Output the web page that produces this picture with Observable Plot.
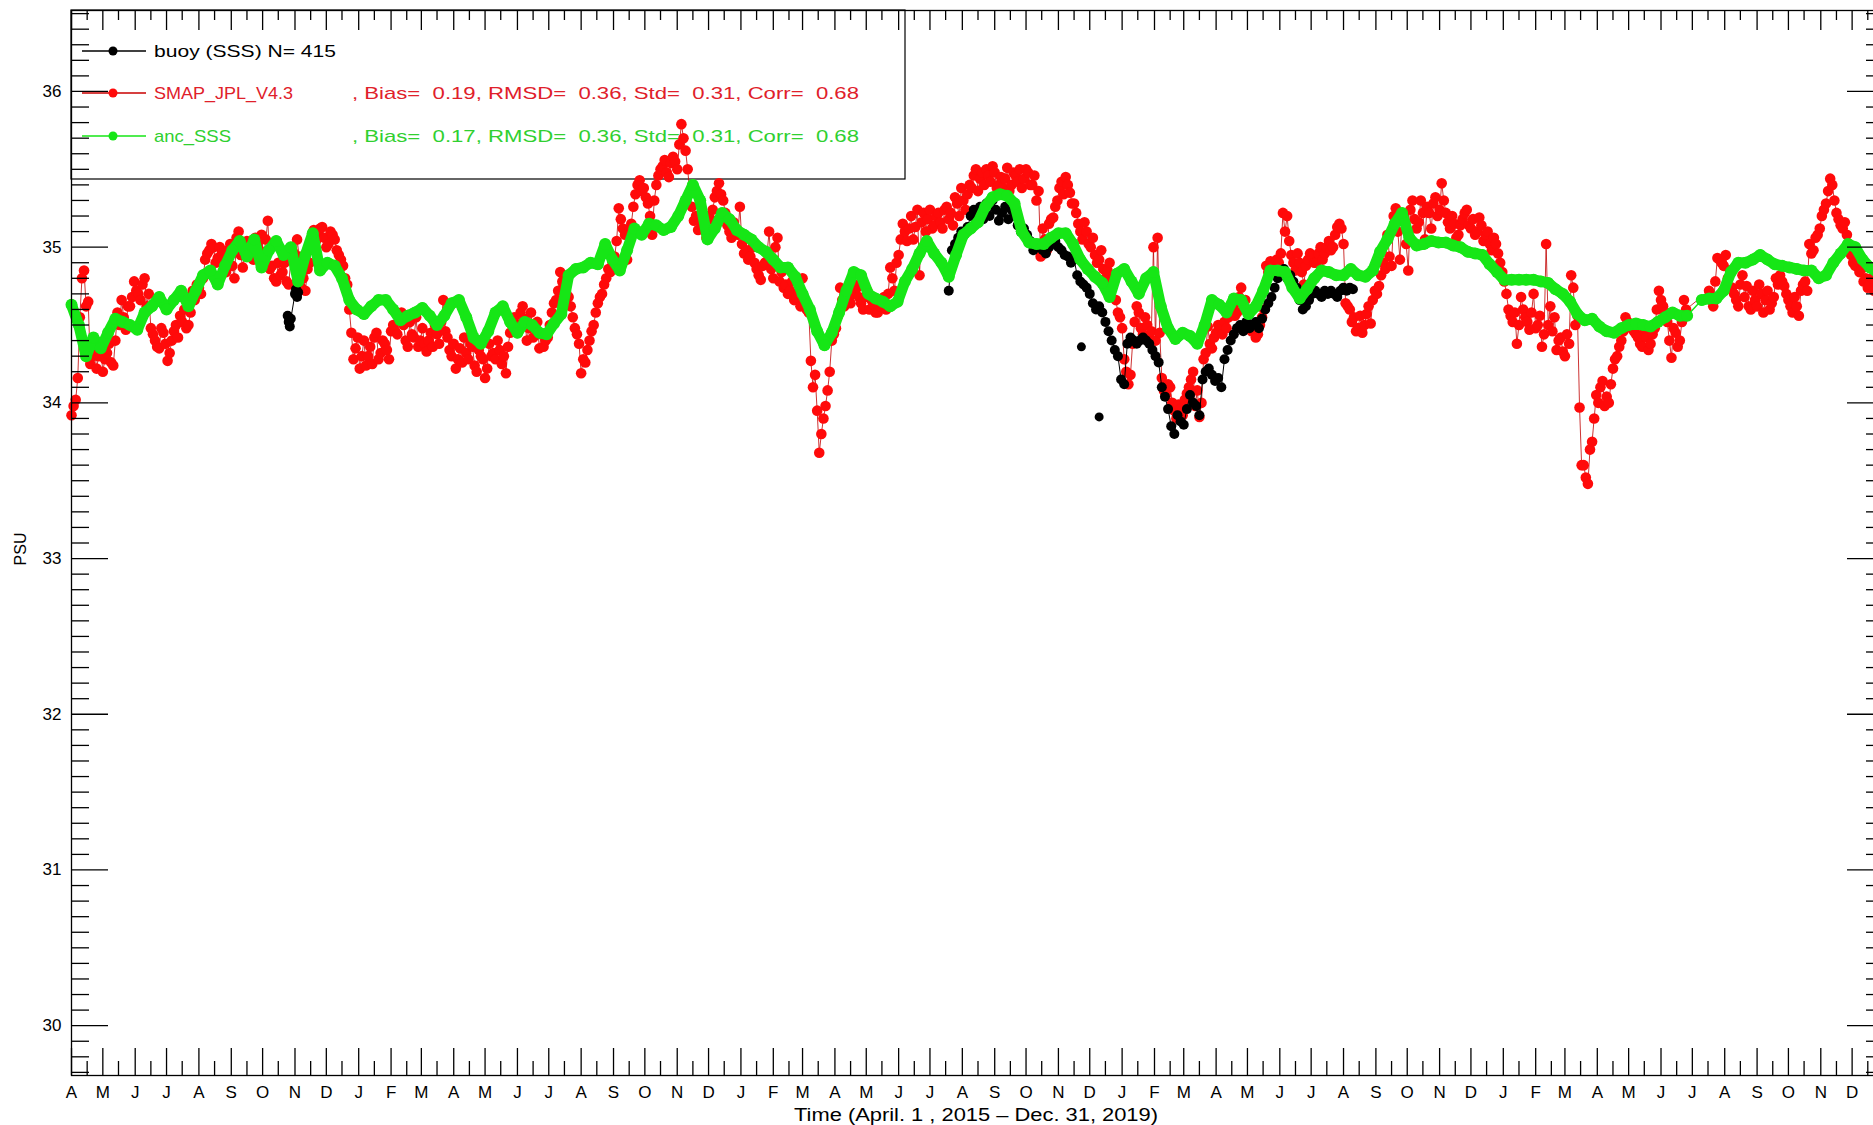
<!DOCTYPE html>
<html>
<head>
<meta charset="utf-8">
<script src="https://cdn.jsdelivr.net/npm/d3@7"></script>
<script src="https://cdn.jsdelivr.net/npm/@observablehq/plot@0.6"></script>
<style>
html, body { margin: 0; padding: 0; background: #fff; overflow: hidden; }
#chart { width: 1873px; height: 1125px; overflow: hidden; position: relative; }
#chart svg { max-width: none !important; width: 1900px !important; height: 1125px !important; display: block; }
</style>
</head>
<body>
<div id="chart"></div>
<script>
// ---------------- DATA ----------------
const startDate = "2015-04-01";
const endDate = "2020-01-01";

// SMAP_JPL_V4.3, values every 4 days from 2015-04-01 (null = missing)
const smapStepDays = 4;
const smapVals = [
  33.92, 34.02, 34.55, 34.85, 34.65, 34.30, 34.22, 34.35, 34.28, 34.38,
  34.24, 34.58, 34.66, 34.47, 34.62, 34.78, 34.70, 34.76, 34.62, 34.48,
  34.40, 34.35, 34.45, 34.27, 34.40, 34.50, 34.56, 34.60, 34.50, 34.72,
  34.76, 34.70, 34.92, 34.98, 35.00, 34.93, 34.96, 34.84, 35.02, 34.80,
  35.10, 34.87, 35.04, 34.95, 35.06, 34.98, 34.93, 35.17, 34.88, 34.78,
  34.82, 34.90, 34.76, 34.97, 35.05, 34.74, 34.72, 34.90, 35.11, 35.08,
  35.13, 35.00, 35.10, 35.05, 34.95, 34.88, 34.76, 34.45, 34.35, 34.22,
  34.40, 34.30, 34.25, 34.45, 34.32, 34.38, 34.28, 34.50, 34.44, 34.58,
  34.40, 34.52, 34.42, 34.36, 34.48, 34.33, 34.45, 34.50, 34.38, 34.66,
  34.42, 34.30, 34.22, 34.35, 34.42, 34.28, 34.36, 34.20, 34.30, 34.16,
  34.38, 34.32, 34.40, 34.25, 34.19, 34.45, 34.55, 34.50, 34.62, 34.40,
  34.58, 34.48, 34.35, 34.36, 34.42, 34.58, 34.66, 34.84, 34.75, 34.68,
  34.55, 34.44, 34.19, 34.26, 34.40, 34.50, 34.64, 34.70, 34.80, 34.84,
  34.94, 35.25, 35.12, 34.92, 35.15, 35.34, 35.43, 35.38, 35.28, 35.08,
  35.40, 35.50, 35.56, 35.45, 35.58, 35.50, 35.79, 35.62, 35.35, 35.17,
  35.11, 35.22, 35.06, 35.18, 35.32, 35.41, 35.30, 35.14, 35.06, 35.12,
  35.26, 34.96, 34.92, 35.00, 34.86, 34.79, 34.90, 35.10, 34.80, 35.06,
  34.84, 34.76, 34.72, 34.66, 34.70, 34.80, 34.60, 34.27, 34.18, 33.68,
  33.90, 34.08, 34.40, 34.48, 34.74, 34.62, 34.66, 34.70, 34.74, 34.64,
  34.68, 34.60, 34.63, 34.58, 34.66, 34.60, 34.87, 34.72, 34.95, 35.15,
  35.04, 35.20, 35.13, 34.82, 35.22, 35.18, 35.12, 35.20, 35.16, 35.24,
  35.18, 35.14, 35.28, 35.38, 35.24, 35.40, 35.46, 35.36, 35.48, 35.50,
  35.42, 35.48, 35.40, 35.38, 35.51, 35.40, 35.46, 35.50, 35.44, 35.48,
  35.40, 35.30, 34.94, 35.05, 35.15, 35.19, 35.30, 35.42, 35.45, 35.35,
  35.28, 35.15, 35.05, 35.10, 35.00, 34.95, 34.92, 34.86, 34.85, 34.78,
  34.66, 34.55, 34.28, 34.12, 34.38, 34.62, 34.48, 34.55, 34.42, 35.00,
  35.06, 34.16, 34.05, 34.10, 33.95, 33.99, 33.92, 34.06, 34.15, 33.98,
  33.91, 34.28, 34.49, 34.35, 34.45, 34.50, 34.52, 34.55, 34.62, 34.58,
  34.74, 34.66, 34.50, 34.47, 34.44, 34.55, 34.88, 34.91, 34.86, 34.90,
  35.22, 35.20, 34.95, 34.85, 34.90, 34.76, 34.92, 34.94, 34.90, 35.00,
  34.96, 35.04, 35.00, 35.13, 35.12, 34.64, 34.60, 34.55, 34.48, 34.45,
  34.57, 34.51, 34.72, 34.75, 34.90, 35.08, 34.88, 35.25, 34.92, 35.20,
  34.85, 35.30, 35.12, 35.30, 35.05, 35.22, 35.28, 35.20, 35.41, 35.22,
  35.12, 35.15, 35.08, 35.18, 35.24, 35.12, 35.08, 35.19, 35.04, 35.10,
  34.98, 35.02, 34.90, 34.78, 34.60, 34.52, 34.38, 34.68, 34.55, 34.47,
  34.70, 34.50, 34.36, 35.02, 34.62, 34.55, 34.40, 34.33, 34.44, 34.82,
  34.50, 33.97, 33.60, 33.48, 33.75, 34.05, 34.10, 33.98, 34.00, 34.22,
  34.30, 34.40, 34.55, 34.50, 34.46, 34.42, 34.36, 34.42, 34.38, 34.48,
  34.72, 34.62, 34.52, 34.29, 34.45, 34.40, 34.66, null, null, null,
  null, null, 34.72, 34.62, 34.93, 34.90, 34.95, 34.85, 34.70, 34.62,
  34.82, 34.75, 34.60, 34.66, 34.76, 34.58, 34.72, 34.64, 34.80, 34.82,
  34.75, 34.66, 34.58, 34.62, 34.72, 34.78, 35.02, 34.98, 35.08, 35.20,
  35.28, 35.44, 35.30, 35.18, 35.12, 35.08, 34.95, 34.88, 34.84, 34.78,
  34.74, 34.80, 34.85, 34.82
];
// SMAP_JPL_V4.3, the in-between samples (2 days after each of the above)
const smapMidVals = [
  33.98, 34.16, 34.80, 34.62, 34.25, 34.36, 34.30, 34.20, 34.32, 34.26,
  34.40, 34.50, 34.55, 34.62, 34.68, 34.72, 34.66, 34.80, 34.70, 34.44,
  34.36, 34.48, 34.38, 34.32, 34.46, 34.42, 34.52, 34.48, 34.58, 34.66,
  34.74, 34.80, 34.96, 35.02, 34.90, 35.00, 34.92, 34.98, 34.88, 35.06,
  34.95, 35.00, 35.00, 34.92, 35.02, 35.08, 35.05, 34.86, 34.80, 34.90,
  34.84, 34.78, 34.92, 34.76, 34.94, 34.80, 34.86, 35.00, 35.04, 35.12,
  35.06, 35.02, 35.08, 34.98, 34.92, 34.80, 34.60, 34.28, 34.42, 34.30,
  34.24, 34.36, 34.42, 34.28, 34.40, 34.34, 34.46, 34.46, 34.54, 34.50,
  34.36, 34.44, 34.55, 34.40, 34.38, 34.40, 34.36, 34.44, 34.52, 34.46,
  34.34, 34.38, 34.28, 34.26, 34.32, 34.38, 34.24, 34.34, 34.28, 34.22,
  34.30, 34.28, 34.34, 34.30, 34.36, 34.50, 34.46, 34.58, 34.54, 34.48,
  34.42, 34.52, 34.44, 34.40, 34.50, 34.64, 34.72, 34.78, 34.70, 34.62,
  34.48, 34.38, 34.28, 34.34, 34.46, 34.58, 34.68, 34.76, 34.86, 34.90,
  35.04, 35.18, 35.08, 35.10, 35.26, 35.40, 35.36, 35.32, 35.20, 35.30,
  35.46, 35.52, 35.48, 35.54, 35.55, 35.66, 35.70, 35.50, 35.26, 35.20,
  35.16, 35.14, 35.20, 35.24, 35.36, 35.34, 35.22, 35.10, 35.16, 35.08,
  35.02, 34.98, 34.94, 34.90, 34.82, 34.88, 34.96, 34.86, 35.00, 34.78,
  34.74, 34.70, 34.78, 34.68, 34.62, 34.66, 34.58, 34.10, 33.95, 33.80,
  33.98, 34.20, 34.44, 34.56, 34.66, 34.70, 34.64, 34.76, 34.68, 34.60,
  34.72, 34.66, 34.58, 34.62, 34.68, 34.70, 34.80, 34.90, 35.05, 35.10,
  35.12, 35.05, 35.24, 35.16, 35.10, 35.24, 35.14, 35.22, 35.12, 35.26,
  35.22, 35.32, 35.20, 35.30, 35.34, 35.38, 35.50, 35.44, 35.40, 35.46,
  35.52, 35.38, 35.45, 35.44, 35.36, 35.48, 35.42, 35.38, 35.50, 35.40,
  35.46, 35.36, 35.12, 34.98, 35.18, 35.26, 35.38, 35.34, 35.40, 35.28,
  35.22, 35.10, 35.16, 35.02, 35.06, 34.90, 34.98, 34.80, 34.90, 34.82,
  34.58, 34.48, 34.20, 34.18, 34.52, 34.58, 34.44, 34.50, 34.46, 34.40,
  34.45, 34.08, 34.12, 34.00, 33.90, 33.96, 34.02, 34.10, 34.20, 34.08,
  34.00, 34.32, 34.38, 34.42, 34.50, 34.44, 34.48, 34.60, 34.56, 34.68,
  34.62, 34.58, 34.46, 34.42, 34.50, 34.60, 34.84, 34.88, 34.92, 34.96,
  35.10, 35.04, 34.90, 34.96, 34.84, 34.88, 34.96, 34.90, 34.96, 34.92,
  35.00, 34.98, 35.08, 35.15, 35.02, 34.62, 34.52, 34.46, 34.56, 34.50,
  34.62, 34.66, 34.70, 34.82, 34.86, 34.94, 35.20, 35.10, 35.18, 35.02,
  35.24, 35.18, 35.16, 35.22, 35.26, 35.12, 35.32, 35.24, 35.30, 35.16,
  35.20, 35.06, 35.14, 35.22, 35.14, 35.18, 35.10, 35.14, 35.08, 35.02,
  35.06, 34.96, 34.84, 34.70, 34.56, 34.58, 34.50, 34.60, 34.52, 34.58,
  34.48, 34.56, 34.44, 34.50, 34.46, 34.34, 34.42, 34.30, 34.38, 34.74,
  34.56, 33.60, 33.52, 33.70, 33.90, 34.00, 34.14, 34.04, 34.12, 34.28,
  34.36, 34.46, 34.52, 34.48, 34.44, 34.38, 34.46, 34.34, 34.44, 34.60,
  34.66, 34.58, 34.40, 34.48, 34.36, 34.52, 34.60, null, null, null,
  null, null, 34.66, 34.78, 34.92, 34.88, 34.80, 34.74, 34.66, 34.76,
  34.68, 34.62, 34.72, 34.62, 34.70, 34.66, 34.60, 34.68, 34.76, 34.78,
  34.70, 34.62, 34.68, 34.56, 34.76, 34.72, 34.96, 35.06, 35.12, 35.24,
  35.36, 35.40, 35.22, 35.14, 35.16, 35.02, 34.90, 34.92, 34.86, 34.80,
  34.76, 34.72, 34.78, null
];

// anc_SSS, one value every 7 days from 2015-04-01 (null = missing)
const ancStepDays = 7;
const ancVals = [
  34.63, 34.50, 34.30, 34.42, 34.35, 34.45, 34.54, 34.52, 34.50, 34.47,
  34.58, 34.62, 34.68, 34.60, 34.66, 34.72, 34.62, 34.72, 34.82, 34.85,
  34.76, 34.88, 34.98, 35.04, 34.94, 35.05, 34.87, 34.98, 35.04, 34.95,
  35.00, 34.78, 34.95, 35.09, 34.85, 34.90, 34.88, 34.80, 34.66, 34.60,
  34.57, 34.62, 34.66, 34.66, 34.60, 34.53, 34.56, 34.58, 34.61, 34.56,
  34.50, 34.56, 34.64, 34.66, 34.55, 34.42, 34.38, 34.46, 34.58, 34.62, 34.52,
  34.45, 34.52, 34.50, 34.45, 34.44, 34.51, 34.57, 34.82, 34.86, 34.87,
  34.90, 34.89, 35.02, 34.92, 34.85, 34.98, 35.12, 35.08, 35.15, 35.14,
  35.11, 35.13, 35.20, 35.30, 35.40, 35.30, 35.05, 35.12, 35.22, 35.18,
  35.11, 35.08, 35.05, 35.00, 34.97, 34.92, 34.87, 34.87, 34.81, 34.70,
  34.60, 34.46, 34.37, 34.45, 34.58, 34.72, 34.84, 34.82, 34.70, 34.67,
  34.65, 34.62, 34.65, 34.78, 34.86, 34.96, 35.04, 34.96, 34.90, 34.81,
  34.95, 35.08, 35.12, 35.16, 35.26, 35.32, 35.34,
  35.33, 35.28, 35.10, 35.03, 35.02, 35.02, 35.06, 35.09, 35.09, 35.02,
  34.92, 34.86, 34.81, 34.77, 34.68, 34.83, 34.86, 34.78, 34.70, 34.80,
  34.84, 34.62, 34.48, 34.41, 34.45, 34.43, 34.38, 34.50, 34.66, 34.63,
  34.58, 34.67, 34.66, 34.57, 34.62, 34.72, 34.85, 34.85, 34.84, 34.74,
  34.67, 34.73, 34.80, 34.85, 34.84, 34.82, 34.82, 34.86, 34.82, 34.81,
  34.85, 34.97, 35.05, 35.15, 35.22, 35.06, 35.01, 35.02, 35.04, 35.03,
  35.03, 35.01, 35.00,
  34.97, 34.96, 34.95, 34.89, 34.84, 34.79, 34.79, 34.79, 34.79, 34.79,
  34.78, 34.77, 34.73, 34.70, 34.65, 34.57, 34.53, 34.54, 34.49, 34.46,
  34.45, 34.48, 34.50, 34.51, 34.50, 34.49, 34.52, 34.55, 34.58, 34.56, 34.56,
  null,
  34.66, 34.67, 34.67, 34.72, 34.84, 34.90, 34.90, 34.92, 34.95, 34.92,
  34.89, 34.88, 34.87, 34.86, 34.85, 34.85, 34.80, 34.82, 34.90, 34.96,
  35.02, 35.00, 34.92, 34.87, 34.84
];

// buoy (SSS): short record in late Oct / early Nov 2015 (days after 2015-04-01)
const buoyEarlyDays = [207, 208, 209, 210, 214, 215, 216, 217];
const buoyEarlyVals = [34.56, 34.52, 34.49, 34.54, 34.70, 34.73, 34.68, 34.71];
// buoy main record, every 3 days starting day 840 (mid-July 2017)
const buoyMainStartDay = 840;
const buoyStepDays = 3;
const buoyMainVals = [
  34.72, 34.98, 35.02, 35.06, 35.10, 35.08, 35.13, 35.20, 35.24, 35.22,
  35.26, 35.18, 35.28, 35.20, 35.30, 35.24, 35.17, 35.22, 35.26, 35.18,
  35.24, 35.20, 35.14, 35.10, 35.12, 35.08, 35.04, 34.98, 35.02, 35.00,
  34.98, 34.96, 35.00, 35.02, 35.04, 35.00, 34.98, 34.95, 34.94, 34.90,
  34.92, 34.82, 34.78, 34.76, 34.74, 34.70, 34.64, 34.60, 34.62, 34.58,
  34.52, 34.46, 34.40, 34.34, 34.30, 34.15, 34.12, 34.38, 34.42, 34.40,
  34.38, 34.40, 34.42, 34.40, 34.38, 34.34, 34.30, 34.26, 34.10, 34.04,
  33.96, 33.85, 33.80, 33.92, 33.88, 33.86, 33.96, 34.05, 34.00, 33.98,
  33.92, 34.15, 34.20, 34.22, 34.18, 34.14, 34.16, 34.10, 34.28, 34.34,
  34.40, 34.44, 34.48, 34.50, 34.46, 34.52, 34.48, 34.50, 34.52, 34.48,
  34.54, 34.60, 34.64, 34.68, 34.74, 34.80, 34.85, 34.86, 34.80, 34.82,
  34.78, 34.74, 34.66, 34.60, 34.62, 34.66, 34.70, 34.72, 34.70, 34.68,
  34.72, 34.70, 34.72, 34.70, 34.68, 34.72, 34.74, 34.72, 34.74, 34.73
];
// isolated buoy samples
const buoyLoneDays = [967, 984];
const buoyLoneVals = [34.36, 33.91];

// axes / labels
const yMajorTicks = [30, 31, 32, 33, 34, 35, 36];
const yDomain = [29.68, 36.52];
const monthLetters = ["J", "F", "M", "A", "M", "J", "J", "A", "S", "O", "N", "D"];
const xTitle = "Time (April. 1 , 2015 \u2013 Dec. 31, 2019)";
const yTitle = "PSU";
const legendNames = ["buoy (SSS) N= 415", "SMAP_JPL_V4.3", "anc_SSS"];
const legendStats = ["", ", Bias=  0.19, RMSD=  0.36, Std=  0.31, Corr=  0.68", ", Bias=  0.17, RMSD=  0.36, Std=  0.31, Corr=  0.68"];

// ---------------- BUILD ----------------
const DAY = 86400000;
const t0 = new Date(startDate + "T00:00:00Z");
const t1 = new Date(endDate + "T00:00:00Z");
const dayToDate = d => new Date(+t0 + d * DAY);

const smap = [
  ...smapVals.map((v, i) => ({date: dayToDate(i * smapStepDays), v})),
  ...smapMidVals.map((v, i) => ({date: dayToDate(i * smapStepDays + smapStepDays / 2), v}))
].sort((a, b) => a.date - b.date);
const smapOk = smap.filter(d => d.v != null);
const anc = ancVals.map((v, i) => ({date: dayToDate(i * ancStepDays), v}));
const ancOk = anc.filter(d => d.v != null);
const buoy = [
  ...buoyEarlyDays.map((d, i) => ({date: dayToDate(d), v: buoyEarlyVals[i], seg: "a"})),
  ...buoyMainVals.map((v, i) => ({date: dayToDate(buoyMainStartDay + i * buoyStepDays), v, seg: "b"}))
];
const buoyLone = buoyLoneDays.map((d, i) => ({date: dayToDate(d), v: buoyLoneVals[i]}));

const W = 1900, H = 1125, mL = 71, mR = 16, mT = 10, mB = 50;
const pxPerDay = (W - mL - mR) / ((t1 - t0) / DAY);
const pxPerUnit = (H - mT - mB) / (yDomain[1] - yDomain[0]);

const yTicks = d3.range(297, 366).map(i => ({v: i / 10, major: i % 10 === 0}));
const months = d3.utcMonth.range(t0, t1);
const xTicks = [
  ...months.map(m => ({date: m, major: true})),
  ...months.map(m => ({date: d3.utcDay.offset(m, 15), major: false}))
];
const yTickLen = t => (t.major ? 37 : 18) / pxPerDay * DAY;
const xTickLenBottom = t => (t.major ? 27 : 14) / pxPerUnit;
const xTickLenTop = t => (t.major ? 20 : 10) / pxPerUnit;

const RED = "#ff0a0a", GREEN = "#16e616";

const chart = Plot.plot({
  width: W, height: H,
  marginLeft: mL, marginRight: mR, marginTop: mT, marginBottom: mB,
  style: {fontFamily: "'Liberation Sans', 'DejaVu Sans', sans-serif", fontSize: "17px", color: "black", background: "white", overflow: "visible", maxWidth: "none"},
  x: {type: "utc", domain: [t0, t1]},
  y: {domain: yDomain},
  marks: [
    // SMAP
    Plot.line(smapOk, {x: "date", y: "v", stroke: "#c00000", strokeWidth: 0.8}),
    Plot.dot(smapOk, {x: "date", y: "v", r: 5.3, fill: RED, stroke: null}),
    // buoy
    Plot.line(buoy, {x: "date", y: "v", z: "seg", stroke: "black", strokeWidth: 1}),
    Plot.dot(buoy, {x: "date", y: "v", r: 5, fill: "black", stroke: null}),
    Plot.dot(buoyLone, {x: "date", y: "v", r: 4.5, fill: "black", stroke: null}),
    // anc_SSS
    Plot.line(ancOk, {x: "date", y: "v", stroke: GREEN, strokeWidth: 1.5}),
    Plot.line(anc, {x: "date", y: "v", stroke: GREEN, strokeWidth: 11, strokeLinejoin: "round", strokeLinecap: "round"}),
    Plot.dot(ancOk, {x: "date", y: "v", r: 6, fill: GREEN, stroke: null}),
    // frame and ticks
    Plot.frame({stroke: "black", strokeWidth: 1.3}),
    Plot.ruleY(yTicks, {y: "v", x1: () => t0, x2: t => new Date(+t0 + yTickLen(t)), stroke: "black", strokeWidth: 1.3}),
    Plot.ruleY(yTicks, {y: "v", x1: () => t1, x2: t => new Date(+t1 - yTickLen(t)), stroke: "black", strokeWidth: 1.3}),
    Plot.ruleX(xTicks, {x: "date", y1: () => yDomain[0], y2: t => yDomain[0] + xTickLenBottom(t), stroke: "black", strokeWidth: 1.3}),
    Plot.ruleX(xTicks, {x: "date", y1: () => yDomain[1], y2: t => yDomain[1] - xTickLenTop(t), stroke: "black", strokeWidth: 1.3}),
    // axes labels
    Plot.axisX({ticks: months, tickSize: 0, tickPadding: 10, tickFormat: d => monthLetters[d.getUTCMonth()], label: null, fontSize: 17}),
    Plot.axisY({ticks: yMajorTicks, tickSize: 0, tickPadding: 10, tickFormat: d => String(d), label: null, fontSize: 17})
  ]
});

document.getElementById("chart").appendChild(chart);

const svg = d3.select(chart);
// x-axis title
svg.append("text").attr("x", 976).attr("y", 1115).attr("dy", "0.35em")
  .attr("text-anchor", "middle").attr("font-size", 18).attr("fill", "black")
  .attr("textLength", 364).attr("lengthAdjust", "spacingAndGlyphs")
  .text(xTitle);
// y-axis title
svg.append("text").attr("transform", "translate(20,549) rotate(-90)")
  .attr("text-anchor", "middle").attr("dy", "0.35em").attr("font-size", 16).attr("fill", "black")
  .text(yTitle);

// ---------------- LEGEND (drawn beneath the data) ----------------
const lg = svg.insert("g", "g").attr("class", "legend").attr("text-anchor", "start");
lg.append("rect").attr("x", 71).attr("y", 10).attr("width", 834).attr("height", 169)
  .attr("fill", "none").attr("stroke", "black").attr("stroke-width", 1.2);
const rowY = [51, 93, 136];
const lineColors = ["black", "#c80000", GREEN];
const dotColors = ["black", RED, GREEN];
const textColors = ["black", "#e0202a", "#30d030"];
const nameLen = [182, 139, 77];
legendNames.forEach((name, i) => {
  lg.append("line").attr("x1", 82).attr("x2", 146).attr("y1", rowY[i]).attr("y2", rowY[i])
    .attr("stroke", lineColors[i]).attr("stroke-width", 1.3);
  lg.append("circle").attr("cx", 113).attr("cy", rowY[i]).attr("r", 4.5).attr("fill", dotColors[i]);
  lg.append("text").attr("x", 154).attr("y", rowY[i]).attr("dy", "0.36em")
    .attr("text-anchor", "start")
    .attr("fill", textColors[i]).attr("font-size", 17)
    .attr("textLength", nameLen[i]).attr("lengthAdjust", "spacingAndGlyphs")
    .style("white-space", "pre").text(name);
  if (legendStats[i]) {
    lg.append("text").attr("x", 352).attr("y", rowY[i]).attr("dy", "0.36em")
      .attr("text-anchor", "start")
      .attr("fill", textColors[i]).attr("font-size", 17)
      .attr("textLength", 507).attr("lengthAdjust", "spacingAndGlyphs")
      .style("white-space", "pre").text(legendStats[i]);
  }
});
</script>
</body>
</html>
